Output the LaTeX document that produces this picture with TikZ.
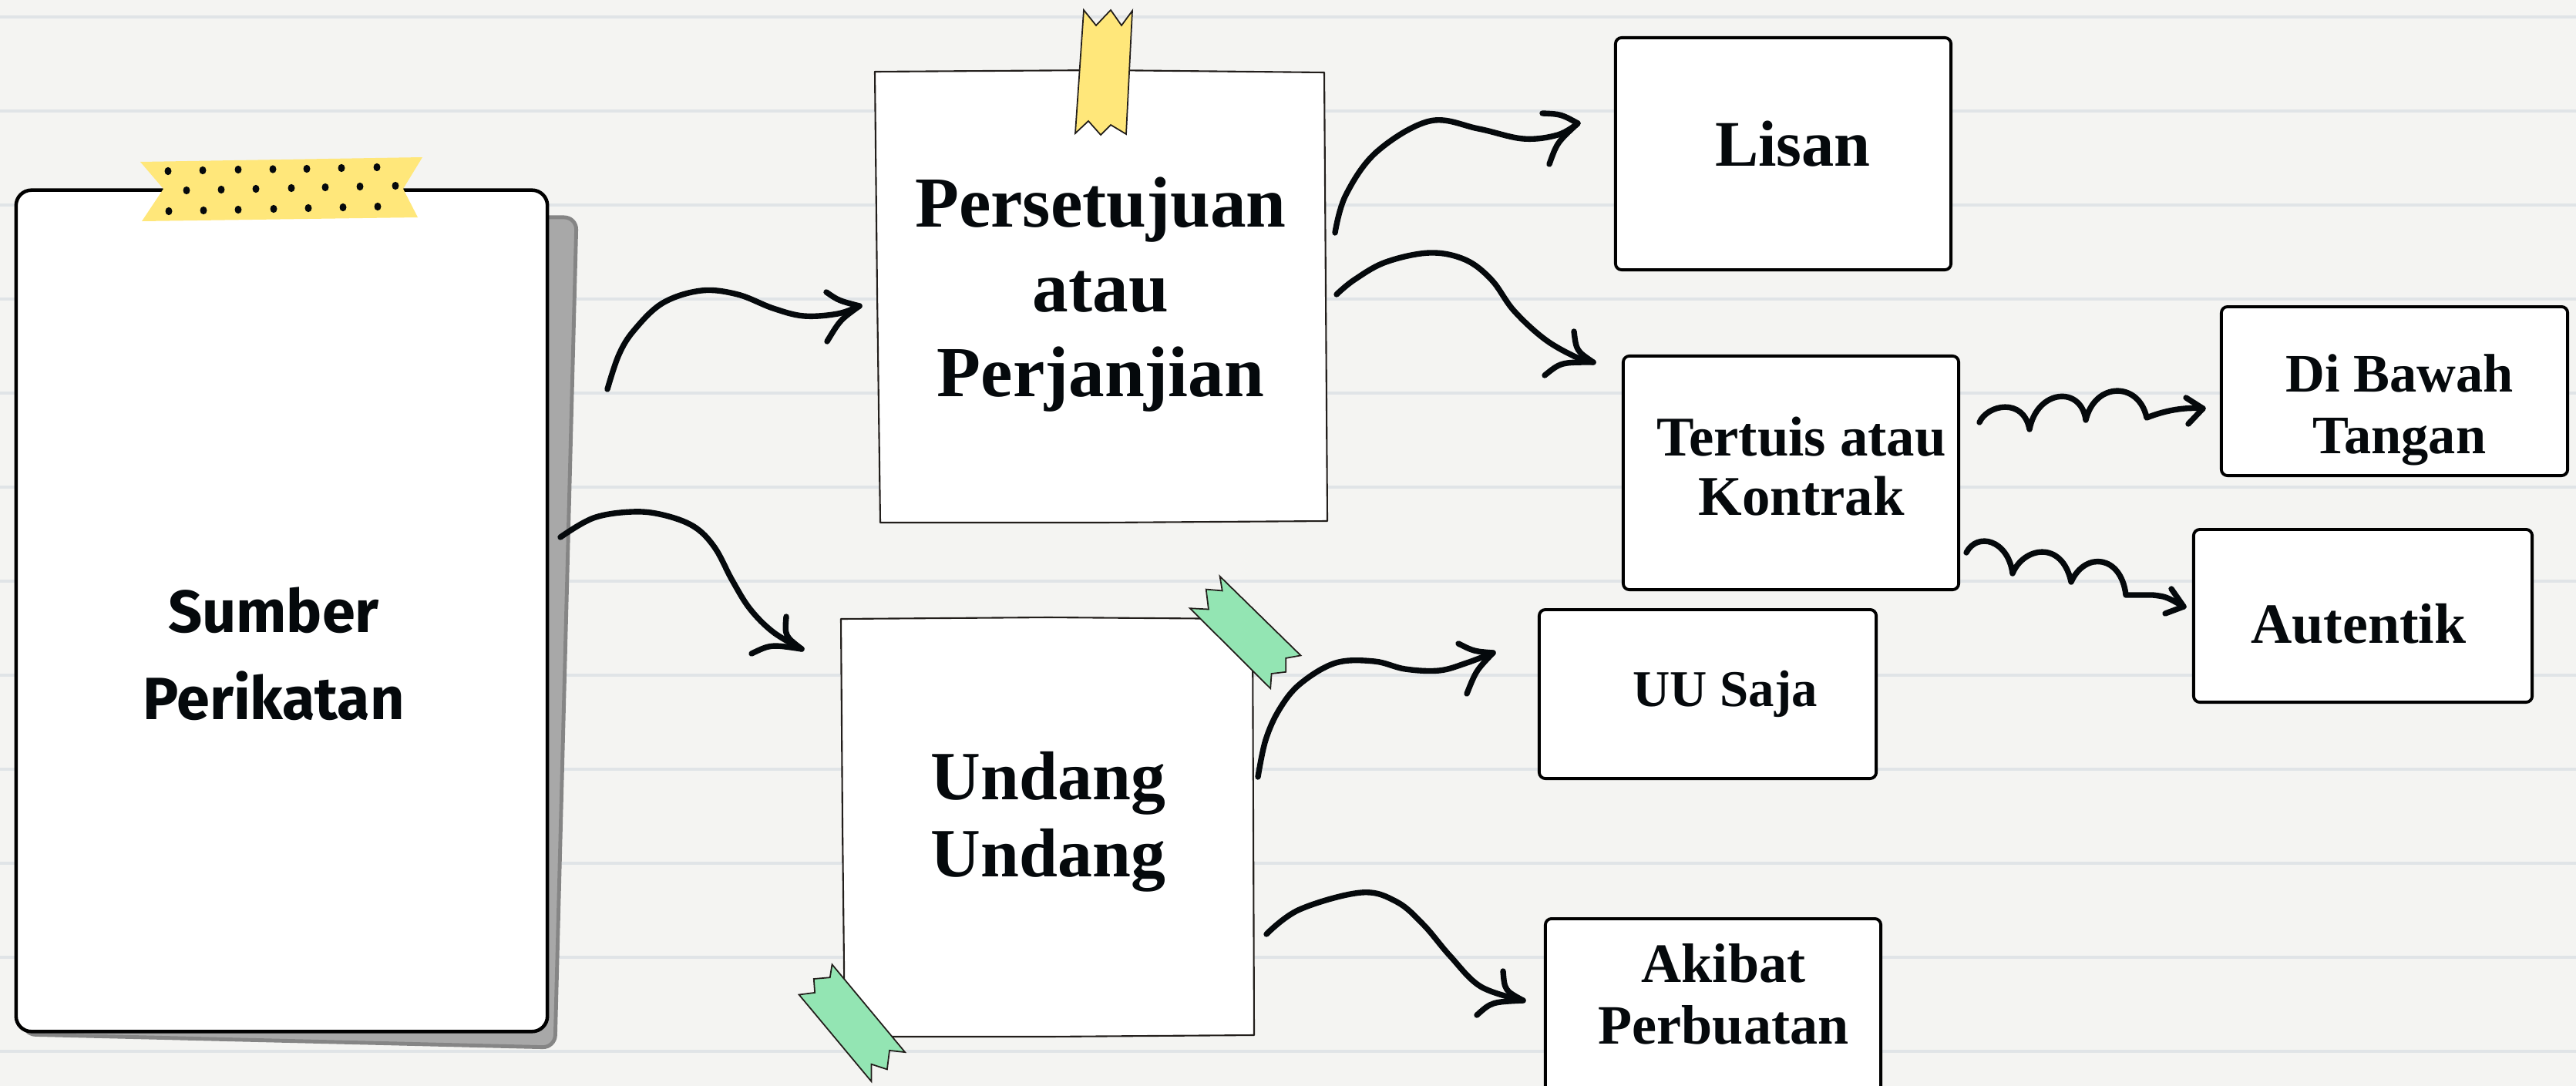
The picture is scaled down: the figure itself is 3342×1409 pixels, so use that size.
\documentclass[tikz,border=0pt]{standalone}
\usepackage{fontspec}
\setmainfont{Liberation Serif}
\newfontfamily\sumfont{Fira Sans}
\definecolor{bgc}{HTML}{F4F4F2}
\definecolor{rulec}{HTML}{E0E4E7}
\definecolor{ink}{HTML}{05090C}
\definecolor{inkb}{HTML}{221E1B}
\definecolor{tapey}{HTML}{FFE77A}
\definecolor{tapeg}{HTML}{93E5B3}
\definecolor{shadowc}{HTML}{A8A8A8}
\definecolor{shadowb}{HTML}{858585}
\begin{document}
\begin{tikzpicture}[x=0.01cm,y=-0.01cm,
  arr/.style={draw=ink, line width=2.1pt, line cap=round, line join=round},
  rbox/.style={draw=black, line width=1.1pt, fill=white, rounded corners=0.08cm, inner sep=0pt},
  paperline/.style={draw=inkb, line width=0.6pt, fill=white, line join=round},
  tapeline/.style={draw=inkb, line width=0.5pt},
  ser/.style={text=ink, align=center, inner sep=0pt},
  dot/.style={fill=ink}
]
\useasboundingbox (0,0) rectangle (3342,1409);
\clip (0,0) rectangle (3342,1409);
\fill[bgc] (0,0) rectangle (3342,1409);
\foreach \k in {0,...,11} \draw[rulec, line width=1pt] (0,{22+122*\k}) -- (3342,{22+122*\k});

% main card
\draw[shadowb, fill=shadowc, line width=1.4pt, rounded corners=0.16cm] (60,280) -- (748,282) -- (720,1359) -- (30,1342) -- cycle;
\node[draw=black, fill=white, line width=1.3pt, rounded corners=0.2cm, minimum width=6.89cm, minimum height=10.91cm, inner sep=0pt] (sumbercard) at (365.5,792.5) {};
\fill[tapey] (182,210) -- (548,204) -- (523,245) -- (542,282) -- (184,287) -- (212,245) -- cycle;
\foreach \x/\y in {218/222,263/221,309/220,354/219.5,398/219,443/218,489/217,
                   242/247,287/246,332/245,378/244,422/243,467/242,513/241,
                   219/274,264/273,309/272,355/271,400/270,445/269,490/268}
  \fill[dot] (\x,\y) ellipse [x radius=0.045cm, y radius=0.052cm];
\node[ser, font=\sumfont\bfseries\fontsize{22}{32.2}\selectfont] (sumber) at (355,848) {Sumber\\Perikatan};

% Persetujuan paper
\draw[paperline] (1135,93) -- (1430,91) -- (1718,94) -- (1720,380) -- (1722,676) -- (1430,678) -- (1142,678) -- (1138,380) -- cycle;
\draw[tapeline, fill=tapey] (1406,13) -- (1422,33) -- (1441,13) -- (1455,33) -- (1469,14) -- (1461,174) -- (1441,162) -- (1428,175) -- (1412,157) -- (1395,173) -- cycle;
\node[ser, font=\bfseries\fontsize{26.5}{31.3}\selectfont] (persetujuan) at (1428,382) {Persetujuan\\atau\\Perjanjian};

% Undang paper
\draw[paperline] (1091,803) -- (1360,801) -- (1625,803) -- (1626,1070) -- (1627,1343) -- (1360,1345) -- (1096,1345) -- (1093,1070) -- cycle;
\draw[tapeline, fill=tapeg] (1543.8,789.2) -- (1567.9,790.5) -- (1564.7,764.6) -- (1585.7,766.4) -- (1582.6,747.7) -- (1687.5,850.4) -- (1668.3,853.9) -- (1668.3,871.8) -- (1649.6,874.0) -- (1648.2,893.2) -- cycle;
\draw[tapeline, fill=tapeg] (1036.6,1290.5) -- (1057.1,1287.9) -- (1055.8,1270.0) -- (1076.8,1268.2) -- (1079.5,1251.3) -- (1174.1,1365.1) -- (1154.0,1362.9) -- (1150.9,1387.4) -- (1130.4,1380.7) -- (1130.4,1403.0) -- cycle;
\node[ser, font=\bfseries\fontsize{25.5}{28.45}\selectfont] (undang) at (1360,1066) {Undang\\Undang};

% right boxes
\node[rbox, minimum width=4.35cm, minimum height=3.01cm] (lisanbox) at (2313.5,199.5) {};
\node[ser, font=\bfseries\fontsize{24}{28}\selectfont, anchor=base] (lisan) at (2326,215) {Lisan};
\node[rbox, minimum width=4.35cm, minimum height=3.03cm] (tertuisbox) at (2323.5,613.5) {};
\node[ser, font=\bfseries\fontsize{20.7}{21.9}\selectfont] (tertuis) at (2337,605) {Tertuis atau\\Kontrak};
\node[rbox, minimum width=4.49cm, minimum height=2.19cm] (bawahbox) at (3106.5,507.5) {};
\node[ser, font=\bfseries\fontsize{20}{22.8}\selectfont] (bawah) at (3113,532) {Di Bawah\\Tangan};
\node[rbox, minimum width=4.39cm, minimum height=2.24cm] (autentikbox) at (3065.5,799) {};
\node[ser, font=\bfseries\fontsize{21}{24}\selectfont, anchor=base] (autentik) at (3060,834) {Autentik};
\node[rbox, minimum width=4.37cm, minimum height=2.19cm] (uubox) at (2215.5,900.5) {};
\node[ser, font=\bfseries\fontsize{19}{22}\selectfont, anchor=base] (uu) at (2238,916) {UU Saja};
\node[rbox, minimum width=4.35cm, minimum height=2.68cm] (akibatbox) at (2222.5,1326) {};
\node[ser, font=\bfseries\fontsize{20.5}{22.8}\selectfont] (akibat) at (2236,1290) {Akibat\\Perbuatan};

% arrow end points
\coordinate (a1s) at (788,505);   \coordinate (a1t) at (1115,397);
\coordinate (a2s) at (727,697);   \coordinate (a2t) at (1040,842);
\coordinate (a3s) at (1732,302);  \coordinate (a3t) at (2047,160);
\coordinate (a4s) at (1734,382);  \coordinate (a4t) at (2067,470);
\coordinate (a5s) at (2568,548);  \coordinate (a5t) at (2858,530);
\coordinate (a6s) at (2551,717);  \coordinate (a6t) at (2833,787);
\coordinate (a7s) at (1632,1008); \coordinate (a7t) at (1937,847);
\coordinate (a8s) at (1643,1212); \coordinate (a8t) at (1976,1298);

% Sumber -> Persetujuan
\draw[arr] plot[smooth, tension=0.6] coordinates {(a1s) (803,460) (823,428) (860,393) (910,377) (957,382) (1003,400) (1043,410) (1087,407) (a1t)};
\draw[arr] (1072,379) .. controls (1088,390) .. (a1t) .. controls (1090,415) .. (1073,443);
% Sumber -> Undang
\draw[arr] plot[smooth, tension=0.6] coordinates {(a2s) (770,672) (820,664) (860,668) (900,683) (927,710) (950,753) (973,790) (1003,820) (a2t)};
\draw[arr] (1020,800) .. controls (1018,825) .. (a2t) .. controls (1000,836) .. (975,848);
% Persetujuan -> Lisan
\draw[arr] plot[smooth, tension=0.6] coordinates {(a3s) (1746,253) (1786,197) (1855,157) (1918,167) (1976,180) (2021,175) (a3t)};
\draw[arr] (2001,147) .. controls (2025,148) .. (a3t) .. controls (2020,185) .. (2010,213);
% Persetujuan -> Tertuis
\draw[arr] plot[smooth, tension=0.6] coordinates {(a4s) (1757,363) (1798,340) (1855,328) (1901,337) (1935,363) (1964,403) (2004,440) (2044,463) (a4t)};
\draw[arr] (2042,430) .. controls (2045,455) .. (a4t) .. controls (2025,470) .. (2004,487);
% Tertuis -> Di Bawah
\draw[arr] (a5s) .. controls (2578,525) and (2625,515) .. (2633,557)
  .. controls (2643,505) and (2700,500) .. (2706,545)
  .. controls (2718,495) and (2775,495) .. (2785,542)
  .. controls (2810,532) and (2835,528) .. (a5t);
\draw[arr] (2836,516) -- (a5t) -- (2839,550);
% Tertuis -> Autentik
\draw[arr] (a6s) .. controls (2565,690) and (2605,700) .. (2611,744)
  .. controls (2625,710) and (2675,700) .. (2687,755)
  .. controls (2705,715) and (2752,720) .. (2758,772)
  -- (2793,772) .. controls (2810,774) .. (a6t);
\draw[arr] (2817,764) -- (a6t) -- (2809,796);
% Undang -> UU Saja
\draw[arr] plot[smooth, tension=0.6] coordinates {(a7s) (1642,960) (1660,920) (1687,887) (1733,860) (1783,858) (1823,868) (1867,870) (1903,860) (a7t)};
\draw[arr] (1892,835) .. controls (1912,845) .. (a7t) .. controls (1915,870) .. (1903,900);
% Undang -> Akibat
\draw[arr] plot[smooth, tension=0.6] coordinates {(a8s) (1686,1180) (1766,1158) (1812,1170) (1847,1200) (1881,1240) (1921,1280) (a8t)};
\draw[arr] (1950,1260) .. controls (1952,1285) .. (a8t) .. controls (1935,1300) .. (1916,1317);
\end{tikzpicture}
\end{document}
